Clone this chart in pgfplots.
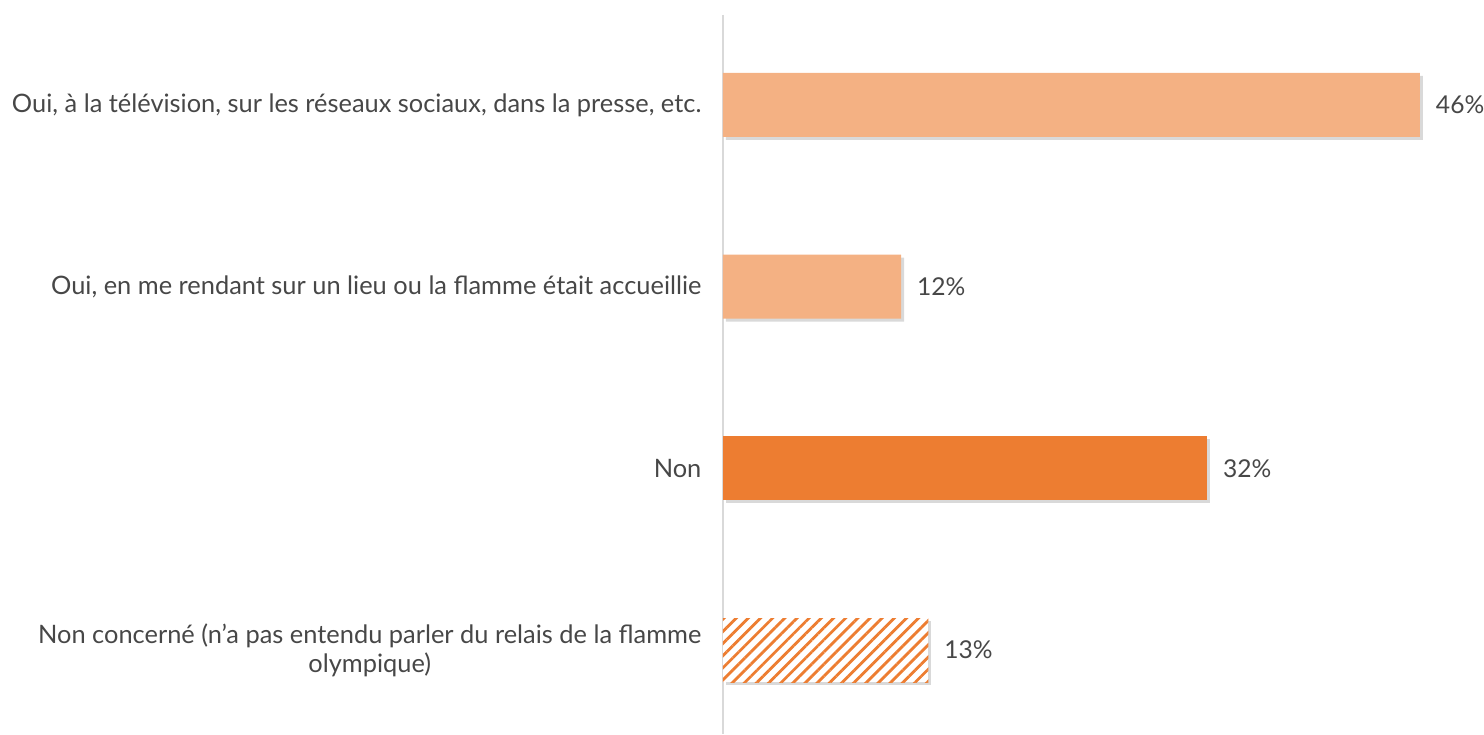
\documentclass[border=0pt]{standalone}
\usepackage{fontspec}
\setmainfont{Lato}
\usepackage{pgfplots}
\pgfplotsset{compat=1.18}
\usetikzlibrary{shadows,patterns.meta}
\definecolor{peach}{HTML}{F4B183}
\definecolor{dorange}{HTML}{ED7D31}
\definecolor{txt}{HTML}{474747}
\definecolor{axgray}{HTML}{D9D9D9}
\begin{document}
\begin{tikzpicture}
\path[use as bounding box] (0,0) rectangle (742pt,367pt);
\begin{axis}[
  at={(361.5pt,0pt)}, anchor=south west,
  scale only axis, width=380.5pt, height=359.5pt,
  xmin=0, xmax=50.23,
  ymin=-0.495, ymax=3.462, y dir=reverse,
  xbar, bar width=32pt,
  axis x line=none,
  axis y line*=left,
  y axis line style={draw=axgray, line width=1pt, -},
  ytick={0,1,2,3},
  yticklabels={{Oui, à la télévision, sur les réseaux sociaux, dans la presse, etc.},
    {Oui, en me rendant sur un lieu ou la flamme était accueillie},
    {Non},
    {Non concerné (n’a pas entendu parler du relais de la flamme\\olympique)}},
  ytick style={draw=none},
  yticklabel style={font=\fontsize{12.7}{14.5}\selectfont, text=txt, align=center, anchor=east, xshift=-3pt},
  point meta=explicit symbolic,
  nodes near coords,
  nodes near coords style={font=\fontsize{12.3}{14}\selectfont, text=txt, anchor=west, xshift=4.5pt},
  clip=false,
]
\addplot[bar shift=0pt, draw=none, fill=peach, drop shadow={shadow xshift=1.5pt, shadow yshift=-1.5pt, opacity=0.3}]
  coordinates {(46,0) [46\%] (11.75,1) [12\%]};
\addplot[bar shift=0pt, draw=none, fill=dorange, drop shadow={shadow xshift=1.5pt, shadow yshift=-1.5pt, opacity=0.3}]
  coordinates {(31.95,2) [32\%]};
\addplot[bar shift=0pt, draw=none, fill=white, drop shadow={shadow xshift=1.5pt, shadow yshift=-1.5pt, opacity=0.3},
  postaction={pattern={Lines[angle=45, distance=4.3pt, line width=1.4pt]}, pattern color=dorange}]
  coordinates {(13.55,3) [13\%]};
\end{axis}
\end{tikzpicture}
\end{document}
